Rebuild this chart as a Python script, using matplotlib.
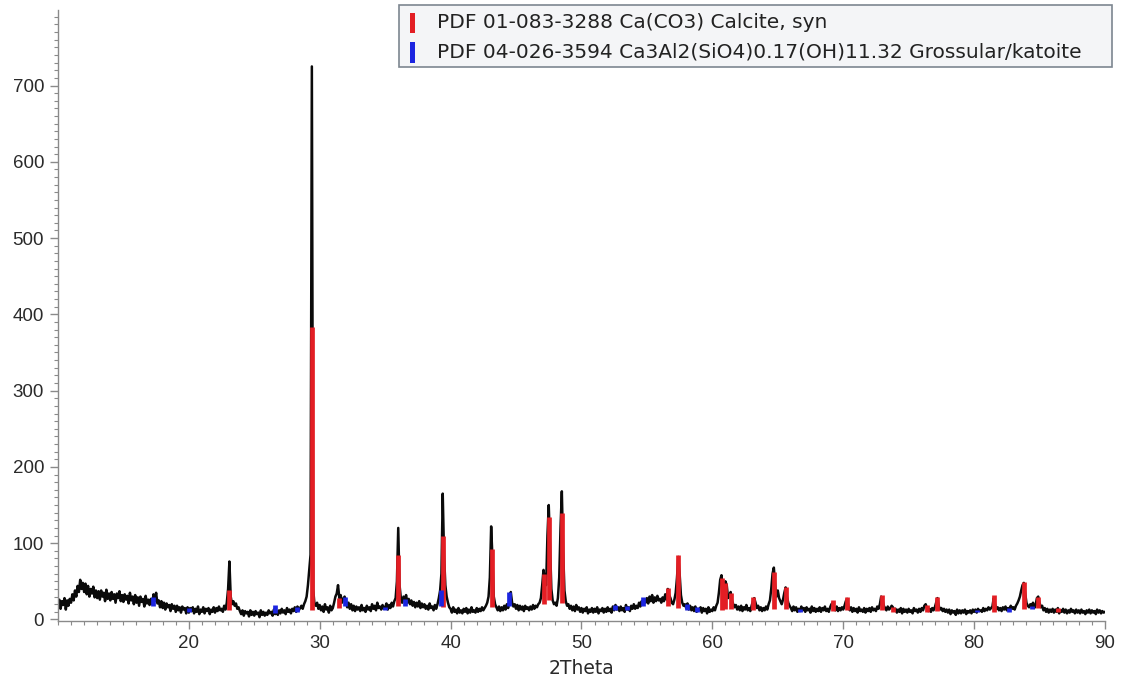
"""XRD pattern: Calcite + Grossular/katoite reference sticks."""

import matplotlib
matplotlib.use("Agg")
import matplotlib.pyplot as plt
import numpy as np
from matplotlib.patches import Rectangle
from matplotlib.ticker import MultipleLocator

plt.rcParams["font.family"] = ["Liberation Sans", "DejaVu Sans"]

# ── measured pattern (counts every 0.1 deg from 10.0 to 90.0) ───────────────
SCAN_START = 10.0
SCAN_STEP = 0.1
counts = [
    16, 26, 14, 24, 19, 28, 13, 25, 18, 27,      # 10
    22, 33, 25, 38, 30, 44, 36, 52, 40, 48,      # 11
    36, 47, 33, 44, 30, 40, 34, 43, 29, 38,      # 12
    28, 37, 26, 38, 30, 35, 24, 39, 27, 34,      # 13
    25, 36, 27, 33, 22, 34, 28, 37, 24, 32,      # 14
    23, 33, 26, 31, 21, 35, 25, 30, 20, 32,      # 15
    22, 29, 18, 30, 23, 27, 17, 31, 21, 26,      # 16
    19, 27, 20, 33, 24, 35, 21, 25, 16, 24,      # 17
    15, 22, 13, 21, 16, 19, 11, 20, 14, 18,      # 18
    10, 18, 12, 16, 9, 17, 13, 15, 8, 16,        # 19
    9, 15, 11, 16, 8, 14, 10, 17, 7, 13,         # 20
    10, 16, 8, 14, 11, 15, 7, 13, 10, 16,        # 21
    9, 15, 11, 17, 12, 14, 10, 18, 13, 22,       # 22
    40, 76, 30, 20, 24, 18, 21, 14, 16, 11,      # 23
    7, 12, 5, 11, 8, 10, 4, 12, 6, 10,           # 24
    5, 11, 7, 9, 3, 12, 6, 10, 5, 9,             # 25
    6, 12, 8, 10, 5, 13, 7, 11, 6, 12,           # 26
    8, 14, 9, 12, 7, 15, 10, 13, 8, 14,          # 27
    11, 16, 10, 17, 12, 15, 18, 14, 20, 24,      # 28
    30, 45, 65, 85, 725, 40, 20, 18, 22, 14,     # 29
    19, 12, 17, 10, 20, 13, 16, 9, 18, 12,       # 30
    15, 22, 30, 34, 45, 28, 32, 22, 27, 30,      # 31
    25, 16, 22, 14, 20, 12, 18, 11, 17, 13,      # 32
    16, 11, 19, 12, 15, 10, 18, 13, 16, 11,      # 33
    20, 14, 18, 12, 22, 15, 17, 13, 19, 14,      # 34
    16, 21, 13, 19, 15, 22, 17, 24, 28, 50,      # 35
    120, 45, 28, 22, 30, 26, 32, 22, 27, 20,     # 36
    25, 18, 23, 16, 22, 17, 24, 15, 21, 16,      # 37
    20, 14, 18, 13, 21, 15, 17, 12, 19, 14,      # 38
    20, 28, 38, 60, 165, 85, 45, 30, 22, 16,     # 39
    14, 9, 16, 10, 13, 8, 15, 9, 12, 8,          # 40
    14, 10, 15, 8, 13, 9, 16, 10, 12, 9,         # 41
    15, 10, 14, 11, 16, 12, 15, 18, 22, 30,      # 42
    55, 122, 80, 30, 20, 16, 12, 17, 11, 16,     # 43
    12, 18, 13, 20, 15, 25, 36, 22, 17, 20,      # 44
    14, 19, 12, 18, 13, 17, 11, 18, 14, 16,      # 45
    12, 17, 13, 19, 14, 18, 16, 20, 22, 28,      # 46
    45, 65, 50, 45, 110, 150, 95, 40, 25, 20,    # 47
    22, 18, 28, 55, 120, 168, 90, 38, 24, 18,    # 48
    20, 14, 18, 12, 17, 11, 19, 13, 16, 10,      # 49
    15, 9, 14, 11, 16, 8, 13, 10, 15, 9,         # 50
    14, 10, 16, 8, 13, 11, 15, 9, 14, 10,        # 51
    16, 11, 14, 9, 17, 12, 19, 13, 16, 11,       # 52
    17, 12, 15, 10, 19, 13, 16, 11, 18, 14,      # 53
    20, 14, 18, 15, 22, 17, 24, 19, 26, 22,      # 54
    28, 21, 30, 24, 32, 22, 29, 24, 31, 25,      # 55
    27, 22, 29, 24, 33, 26, 40, 32, 28, 22,      # 56
    20, 26, 35, 55, 82, 60, 32, 22, 18, 20,      # 57
    15, 21, 13, 18, 12, 16, 11, 17, 10, 14,      # 58
    12, 16, 9, 15, 11, 14, 8, 16, 10, 13,        # 59
    11, 16, 12, 18, 22, 35, 52, 58, 40, 35,      # 60
    50, 45, 28, 30, 36, 25, 20, 16, 19, 13,      # 61
    17, 12, 18, 11, 16, 13, 19, 12, 15, 11,      # 62
    18, 24, 28, 22, 15, 18, 12, 16, 11, 15,      # 63
    12, 17, 13, 20, 25, 40, 60, 68, 45, 30,      # 64
    38, 28, 24, 20, 26, 35, 42, 30, 22, 18,      # 65
    15, 11, 17, 12, 16, 10, 14, 11, 17, 12,      # 66
    15, 10, 16, 12, 14, 9, 17, 11, 15, 10,       # 67
    14, 11, 16, 10, 15, 12, 17, 11, 14, 10,      # 68
    16, 20, 22, 15, 12, 17, 11, 15, 12, 16,      # 69
    13, 18, 24, 27, 17, 12, 16, 10, 15, 11,      # 70
    14, 9, 16, 11, 13, 10, 15, 9, 14, 11,        # 71
    15, 10, 16, 12, 14, 11, 17, 14, 20, 30,      # 72
    26, 18, 15, 12, 17, 13, 15, 18, 16, 12,      # 73
    14, 9, 13, 10, 15, 8, 14, 10, 13, 9,         # 74
    14, 10, 12, 8, 15, 11, 13, 9, 14, 10,        # 75
    15, 12, 18, 20, 15, 11, 14, 10, 15, 12,      # 76
    16, 22, 28, 18, 13, 15, 11, 14, 10, 13,      # 77
    9, 13, 7, 12, 9, 11, 6, 13, 8, 12,           # 78
    8, 12, 9, 13, 7, 11, 9, 12, 8, 13,           # 79
    10, 13, 9, 14, 11, 12, 10, 15, 11, 14,       # 80
    12, 16, 13, 15, 17, 28, 20, 14, 16, 12,      # 81
    15, 11, 16, 13, 17, 12, 15, 12, 18, 14,      # 82
    16, 13, 18, 21, 25, 30, 38, 45, 48, 35,      # 83
    22, 18, 16, 20, 17, 22, 15, 19, 28, 30,      # 84
    22, 16, 18, 12, 15, 10, 14, 9, 13, 10,       # 85
    14, 9, 13, 10, 15, 8, 12, 10, 14, 9,         # 86
    13, 8, 12, 9, 14, 10, 12, 8, 13, 9,          # 87
    12, 8, 13, 9, 11, 7, 12, 9, 13, 8,           # 88
    12, 9, 11, 7, 13, 9, 12, 8, 11, 9,           # 89
    10,                                          # 90
]

# ── reference patterns ──────────────────────────────────────────────────────
calcite_pos = [23.05, 29.4, 31.45, 35.97, 39.4, 43.15, 47.1, 47.5, 48.5,
               56.6, 57.4, 60.7, 61.0, 61.4, 63.1, 64.7, 65.6, 69.2, 70.3,
               72.95, 73.8, 76.4, 77.2, 81.5, 83.8, 84.9, 86.4]
calcite_top = [39, 383, 28, 84, 110, 93, 60, 134, 139,
               41, 85, 55, 48, 35, 29, 62, 43, 26, 29,
               32, 16, 19, 29, 32, 49, 29, 15]
calcite_bot = [12, 12, 15, 18, 16, 16, 20, 25, 22,
               18, 15, 12, 14, 14, 12, 14, 14, 11, 12,
               12, 10, 10, 11, 10, 14, 15, 10]

katoite_pos = [17.3, 20.0, 26.6, 28.3, 31.9, 35.0, 36.5, 39.26, 44.5,
               52.55, 53.5, 54.7, 58.05, 58.8, 66.7, 80.2, 82.7, 84.4]
katoite_top = [30, 15, 19, 16, 29, 16, 27, 38, 36,
               19, 18, 29, 20, 16, 14, 13, 15, 18]
katoite_bot = [18, 10, 8, 10, 18, 12, 18, 18, 18,
               12, 12, 18, 12, 10, 10, 10, 10, 14]

LEGEND_LABELS = [
    "PDF 01-083-3288 Ca(CO3) Calcite, syn",
    "PDF 04-026-3594 Ca3Al2(SiO4)0.17(OH)11.32 Grossular/katoite",
]
RED = "#e31e24"
BLUE = "#1c25e0"

scan_x = SCAN_START + SCAN_STEP * np.arange(len(counts))

# ── figure ──────────────────────────────────────────────────────────────────
fig = plt.figure(figsize=(11.21, 6.84), dpi=100)
ax = fig.add_axes([0.0517, 0.0921, 0.934, 0.8933])

ax.plot(scan_x, counts, color="#0a0a0a", linewidth=1.8, zorder=2)
ax.vlines(calcite_pos, calcite_bot, calcite_top, color=RED, linewidth=3.4, zorder=3)
ax.vlines(katoite_pos, katoite_bot, katoite_top, color=BLUE, linewidth=3.4, zorder=3)

ax.set_xlim(10, 90)
ax.set_ylim(-2, 799)
ax.xaxis.set_minor_locator(MultipleLocator(1))
ax.yaxis.set_major_locator(MultipleLocator(100))
ax.yaxis.set_minor_locator(MultipleLocator(10))
ax.set_xticks(range(20, 91, 10))
ax.set_xticklabels([str(v) for v in range(20, 91, 10)])

for side in ("top", "right"):
    ax.spines[side].set_visible(False)
for side in ("left", "bottom"):
    ax.spines[side].set_color("#8a8a8a")
    ax.spines[side].set_linewidth(1.0)

ax.tick_params(which="major", direction="out", length=6, width=1.0,
               color="#8a8a8a", labelsize=13.5, labelcolor="#2a2a2a", pad=4)
ax.tick_params(which="minor", direction="out", length=3, width=0.8, color="#8a8a8a")
ax.set_xlabel("2Theta", fontsize=13.5, color="#2a2a2a", labelpad=5,
              family=["DejaVu Sans"])

# legend box drawn in figure pixels
W, H = 1121, 684
fig.patches.append(Rectangle((399 / W, 1 - 67 / H), (1112 - 399) / W, 62 / H,
                             transform=fig.transFigure, facecolor="#f4f5f7",
                             edgecolor="#7d8690", linewidth=1.2, zorder=5))
for i, (label, col) in enumerate(zip(LEGEND_LABELS, [RED, BLUE])):
    top = 13 + 29.5 * i
    fig.patches.append(Rectangle((410 / W, 1 - (top + 20) / H), 5 / W, 20 / H,
                                 transform=fig.transFigure, facecolor=col,
                                 edgecolor="none", zorder=6))
    fig.text(437 / W, 1 - (28 + 29 * i) / H, label, fontsize=14.5, color="#222222",
             va="baseline", family=["DejaVu Sans"], zorder=7)

fig.savefig("out.png", dpi=100)
